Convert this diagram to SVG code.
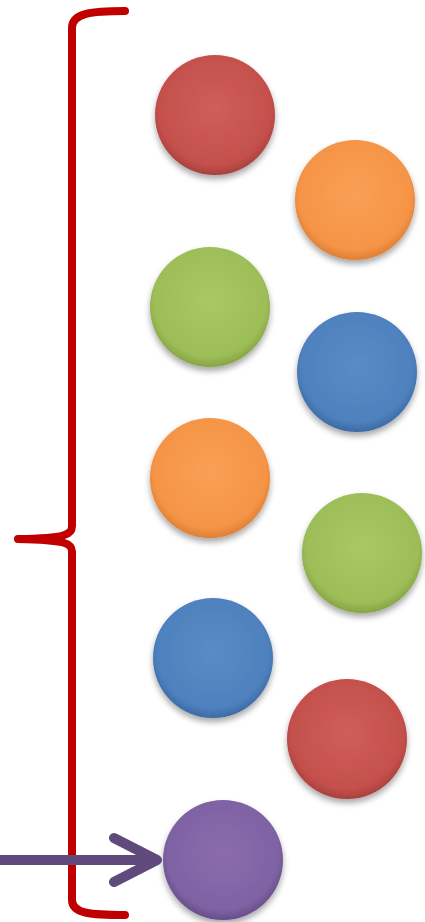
<svg xmlns="http://www.w3.org/2000/svg" width="425" height="922" viewBox="0 0 425 922">
<defs>
<filter id="sh" x="-30%" y="-30%" width="160%" height="170%">
<feGaussianBlur in="SourceAlpha" stdDeviation="3"/>
<feOffset dy="4" result="b"/>
<feComponentTransfer><feFuncA type="linear" slope="0.35"/></feComponentTransfer>
<feMerge><feMergeNode/><feMergeNode in="SourceGraphic"/></feMerge>
</filter>
<radialGradient id="gRed" cx="50%" cy="45%" r="55%"><stop offset="0" stop-color="#cf5e5a"/><stop offset="0.85" stop-color="#c4504c"/><stop offset="1" stop-color="#a8403d"/></radialGradient>
<radialGradient id="gOrange" cx="50%" cy="45%" r="55%"><stop offset="0" stop-color="#f9a055"/><stop offset="0.85" stop-color="#f59446"/><stop offset="1" stop-color="#dd7f35"/></radialGradient>
<radialGradient id="gGreen" cx="50%" cy="45%" r="55%"><stop offset="0" stop-color="#a9c965"/><stop offset="0.85" stop-color="#9dbd58"/><stop offset="1" stop-color="#86a444"/></radialGradient>
<radialGradient id="gBlue" cx="50%" cy="45%" r="55%"><stop offset="0" stop-color="#5a8cc6"/><stop offset="0.85" stop-color="#4e81bd"/><stop offset="1" stop-color="#3d6aa3"/></radialGradient>
<radialGradient id="gPurple" cx="50%" cy="45%" r="55%"><stop offset="0" stop-color="#8a6cad"/><stop offset="0.85" stop-color="#7e62a3"/><stop offset="1" stop-color="#664d8a"/></radialGradient>
</defs>
<style>
.ball{filter:url(#sh)}
.brace{fill:none;stroke:#c00000;stroke-width:8;stroke-linecap:round;stroke-linejoin:round}
.arrow{fill:none;stroke:#5f4a7b;stroke-width:10;stroke-linecap:round;stroke-linejoin:round}
</style>
<g id="brace"><path class="brace" d="M125,11 C92,11 72,13 72,28 L72,526 C72,535 66,538 18,539 M72,552 C72,543 66,540 18,539 M72,552 L72,900 C72,914 92,915 125,915"/></g>
<g id="n1"><circle class="ball" cx="215" cy="115" r="60" fill="url(#gRed)"/></g>
<g id="n2"><circle class="ball" cx="355" cy="200" r="60" fill="url(#gOrange)"/></g>
<g id="n3"><circle class="ball" cx="210" cy="307" r="60" fill="url(#gGreen)"/></g>
<g id="n4"><circle class="ball" cx="357" cy="372" r="60" fill="url(#gBlue)"/></g>
<g id="n5"><circle class="ball" cx="210" cy="478" r="60" fill="url(#gOrange)"/></g>
<g id="n6"><circle class="ball" cx="362" cy="553" r="60" fill="url(#gGreen)"/></g>
<g id="n7"><circle class="ball" cx="213" cy="658" r="60" fill="url(#gBlue)"/></g>
<g id="n8"><circle class="ball" cx="347" cy="739" r="60" fill="url(#gRed)"/></g>
<g id="n9"><circle class="ball" cx="223" cy="860" r="60" fill="url(#gPurple)"/></g>
<g id="connectors"><path class="arrow" d="M-5,860 L155,860 M114,838 L157,860 L114,882"/></g>
</svg>
